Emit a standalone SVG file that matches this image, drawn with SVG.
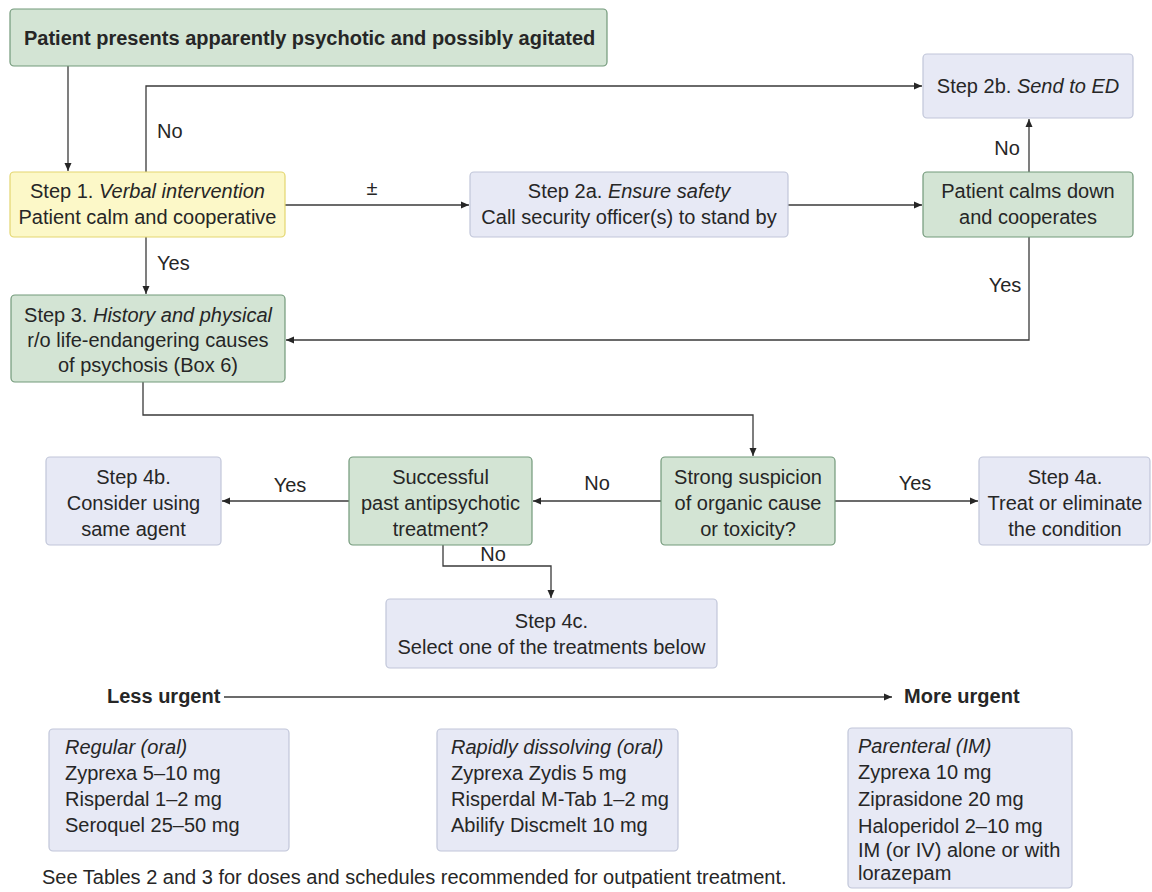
<svg xmlns="http://www.w3.org/2000/svg" width="1152" height="892" viewBox="0 0 1152 892">
<style>
text{font-family:"Liberation Sans",Arial,Helvetica,sans-serif;font-size:20px;fill:#262626}
.c{text-anchor:middle}
.b{font-weight:bold}
.i{font-style:italic}
.green{fill:#d3e4d4;stroke:#72997a;stroke-width:1.2}
.blue{fill:#e7e9f5;stroke:#c1c6d9;stroke-width:1.2}
.yellow{fill:#fcf8c8;stroke:#e3d670;stroke-width:1.2}
.ln{fill:none;stroke:#3a3a3a;stroke-width:1.3}
</style>
<defs>
<marker id="ah" markerUnits="userSpaceOnUse" markerWidth="10" markerHeight="10" refX="8" refY="4" orient="auto">
<path d="M0,0.5 L8,4 L0,7.5 Z" fill="#262626"/>
</marker>
</defs>
<rect width="1152" height="892" fill="#ffffff"/>

<g id="connectors">
<path class="ln" d="M68,66 V171" marker-end="url(#ah)"/>
<path class="ln" d="M146,172 V86 H922" marker-end="url(#ah)"/>
<path class="ln" d="M285,205 H469" marker-end="url(#ah)"/>
<path class="ln" d="M788,205 H922" marker-end="url(#ah)"/>
<path class="ln" d="M1029,172 V119" marker-end="url(#ah)"/>
<path class="ln" d="M1029,237 V340 H286" marker-end="url(#ah)"/>
<path class="ln" d="M146,237 V294" marker-end="url(#ah)"/>
<path class="ln" d="M143,382 V415 H753 V456" marker-end="url(#ah)"/>
<path class="ln" d="M661,501 H533" marker-end="url(#ah)"/>
<path class="ln" d="M349,501 H222" marker-end="url(#ah)"/>
<path class="ln" d="M835,501 H978" marker-end="url(#ah)"/>
<path class="ln" d="M443,545 V566 H551 V598" marker-end="url(#ah)"/>
<path class="ln" d="M224,697 H892" marker-end="url(#ah)"/>
<text x="157" y="138">No</text>
<text class="c" x="372" y="195">±</text>
<text class="c" x="1007" y="155">No</text>
<text class="c" x="1005" y="292">Yes</text>
<text x="157" y="270">Yes</text>
<text class="c" x="290" y="492">Yes</text>
<text class="c" x="597" y="490">No</text>
<text class="c" x="915" y="490">Yes</text>
<text class="c" x="493" y="561">No</text>
</g>

<g id="start">
<rect class="green" x="10" y="9" width="597" height="57" rx="4"/>
<text class="b" x="24" y="45">Patient presents apparently psychotic and possibly agitated</text>
</g>

<g id="step1">
<rect class="yellow" x="10" y="172" width="275" height="65" rx="4"/>
<text class="c" x="147.5" y="198">Step 1. <tspan class="i">Verbal intervention</tspan></text>
<text class="c" x="147.5" y="224">Patient calm and cooperative</text>
</g>

<g id="step2a">
<rect class="blue" x="470" y="172" width="318" height="65" rx="4"/>
<text class="c" x="629" y="198">Step 2a. <tspan class="i">Ensure safety</tspan></text>
<text class="c" x="629" y="224">Call security officer(s) to stand by</text>
</g>

<g id="calms">
<rect class="green" x="923" y="172" width="210" height="65" rx="4"/>
<text class="c" x="1028" y="198">Patient calms down</text>
<text class="c" x="1028" y="224">and cooperates</text>
</g>

<g id="step2b">
<rect class="blue" x="923" y="54" width="210" height="64" rx="4"/>
<text class="c" x="1028" y="93">Step 2b. <tspan class="i">Send to ED</tspan></text>
</g>

<g id="step3">
<rect class="green" x="11" y="295" width="274" height="87" rx="4"/>
<text class="c" x="148" y="322">Step 3. <tspan class="i">History and physical</tspan></text>
<text class="c" x="148" y="347">r/o life-endangering causes</text>
<text class="c" x="148" y="372">of psychosis (Box 6)</text>
</g>

<g id="strong">
<rect class="green" x="661" y="457" width="174" height="88" rx="4"/>
<text class="c" x="748" y="484">Strong suspicion</text>
<text class="c" x="748" y="510">of organic cause</text>
<text class="c" x="748" y="536">or toxicity?</text>
</g>

<g id="step4a">
<rect class="blue" x="979" y="457" width="171" height="88" rx="4"/>
<text class="c" x="1065" y="484">Step 4a.</text>
<text class="c" x="1065" y="510">Treat or eliminate</text>
<text class="c" x="1065" y="536">the condition</text>
</g>

<g id="successful">
<rect class="green" x="349" y="457" width="183" height="88" rx="4"/>
<text class="c" x="440.5" y="484">Successful</text>
<text class="c" x="440.5" y="510">past antipsychotic</text>
<text class="c" x="440.5" y="536">treatment?</text>
</g>

<g id="step4b">
<rect class="blue" x="46" y="457" width="175" height="88" rx="4"/>
<text class="c" x="133.5" y="484">Step 4b.</text>
<text class="c" x="133.5" y="510">Consider using</text>
<text class="c" x="133.5" y="536">same agent</text>
</g>

<g id="step4c">
<rect class="blue" x="386" y="599" width="331" height="69" rx="4"/>
<text class="c" x="551.5" y="628">Step 4c.</text>
<text class="c" x="551.5" y="654">Select one of the treatments below</text>
</g>

<g id="urgency">
<text class="b" x="107" y="703">Less urgent</text>
<text class="b" x="904" y="703">More urgent</text>
</g>

<g id="regular">
<rect class="blue" x="49" y="729" width="240" height="122" rx="4"/>
<text class="i" x="65" y="754">Regular (oral)</text>
<text x="65" y="780">Zyprexa 5–10 mg</text>
<text x="65" y="806">Risperdal 1–2 mg</text>
<text x="65" y="832">Seroquel 25–50 mg</text>
</g>

<g id="rapid">
<rect class="blue" x="437" y="729" width="241" height="122" rx="4"/>
<text class="i" x="451" y="754">Rapidly dissolving (oral)</text>
<text x="451" y="780">Zyprexa Zydis 5 mg</text>
<text x="451" y="806">Risperdal M-Tab 1–2 mg</text>
<text x="451" y="832">Abilify Discmelt 10 mg</text>
</g>

<g id="parenteral">
<rect class="blue" x="848" y="728" width="224" height="160" rx="4"/>
<text class="i" x="858" y="753">Parenteral (IM)</text>
<text x="858" y="779">Zyprexa 10 mg</text>
<text x="858" y="806">Ziprasidone 20 mg</text>
<text x="858" y="833">Haloperidol 2–10 mg</text>
<text x="858" y="857">IM (or IV) alone or with</text>
<text x="858" y="880">lorazepam</text>
</g>

<g id="footer">
<text x="42" y="884">See Tables 2 and 3 for doses and schedules recommended for outpatient treatment.</text>
</g>
</svg>
